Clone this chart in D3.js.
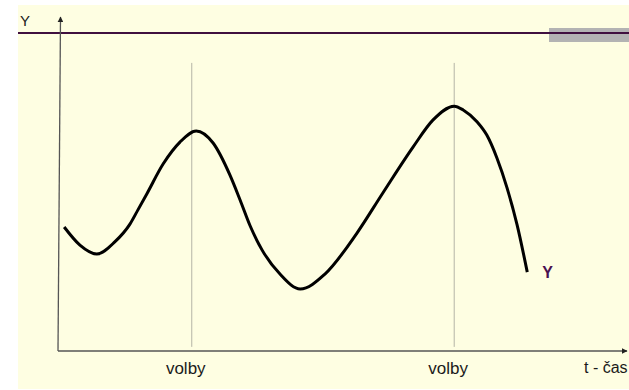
<!DOCTYPE html>
<html>
<head>
<meta charset="utf-8">
<script src="https://cdn.jsdelivr.net/npm/d3@7"></script>
<style>
  html, body { margin: 0; padding: 0; background: #fff; }
  svg { display: block; font-family: "Liberation Sans", Arial, sans-serif; }
</style>
</head>
<body>
<div id="chart"></div>
<script>
// curve of Y over time (t in % of the axis, value in % of the height up to the top line)
var times  = [1.1, 3.9, 6.9, 10.1, 12.8, 14.2, 15.8, 18.7, 21.7, 24.6, 27.6, 30.6, 32.4, 34.2,
              36.3, 39.5, 43.1, 47.5, 53.2, 57.8, 63.2, 66.7, 70.5, 72.1, 74.6, 76.3, 78.1,
              79.9, 81.7, 83.5];
var values = [39.0, 33.3, 30.5, 34.3, 39.9, 44.3, 49.4, 58.8, 65.7, 69.2, 65.4, 55.3, 47.5, 39.3,
              31.8, 24.2, 19.5, 24.2, 37.1, 49.7, 64.2, 72.6, 77.0, 75.8, 72.0, 67.9, 60.7,
              51.3, 39.6, 24.8];

// elections
var electionTimes = [23.8, 70.5];
var electionLabels = ["volby", "volby"];
var electionTop = 90.6;

var topLevel = 100; // horizontal purple line
var seriesLabel = "Y";
var yAxisLabel = "Y";
var xAxisLabel = "t - čas";

var width = 629, height = 390;

var svg = d3.select("#chart").append("svg")
    .attr("width", width).attr("height", height);

var defs = svg.append("defs");
defs.append("marker")
    .attr("id", "arrow")
    .attr("viewBox", "0 0 10 10")
    .attr("refX", 9).attr("refY", 5)
    .attr("markerWidth", 6).attr("markerHeight", 6)
    .attr("markerUnits", "userSpaceOnUse")
    .attr("orient", "auto")
    .append("path")
    .attr("d", "M0,0 L10,5 L0,10 z")
    .attr("fill", "#222");

// slide background
svg.append("rect")
    .attr("x", 18).attr("y", 5)
    .attr("width", width - 18).attr("height", 384)
    .attr("fill", "#fefee2");

var xScale = d3.scaleLinear().domain([0, 100]).range([58, 620]);
var yScale = d3.scaleLinear().domain([0, 100]).range([351, 33]);

// grey block at the right of the top line
svg.append("rect")
    .attr("x", 549).attr("y", 28)
    .attr("width", width - 549).attr("height", 14)
    .attr("fill", "#b3b3b3");

// top line
svg.append("line")
    .attr("x1", 18).attr("x2", width)
    .attr("y1", yScale(topLevel)).attr("y2", yScale(topLevel))
    .attr("stroke", "#40103f")
    .attr("stroke-width", 2);

// election lines
svg.selectAll(".election")
    .data(electionTimes)
    .enter().append("line")
    .attr("class", "election")
    .attr("x1", function(d){ return xScale(d); })
    .attr("x2", function(d){ return xScale(d); })
    .attr("y1", yScale(electionTop))
    .attr("y2", yScale(1.3))
    .attr("stroke", "#b4b4a6")
    .attr("stroke-width", 1);

svg.selectAll(".election-label")
    .data(electionTimes)
    .enter().append("text")
    .attr("class", "election-label")
    .attr("x", function(d){ return xScale(d) - 6; })
    .attr("y", 374)
    .attr("text-anchor", "middle")
    .attr("font-size", 17)
    .attr("fill", "#1a1a1a")
    .text(function(d, i){ return electionLabels[i]; });

// axes
svg.append("line")
    .attr("x1", 58).attr("y1", yScale(0))
    .attr("x2", 60.5).attr("y2", 17)
    .attr("stroke", "#555")
    .attr("stroke-width", 1.3)
    .attr("marker-end", "url(#arrow)");

svg.append("line")
    .attr("x1", 58).attr("y1", yScale(0))
    .attr("x2", 627).attr("y2", yScale(0))
    .attr("stroke", "#555")
    .attr("stroke-width", 1.3)
    .attr("marker-end", "url(#arrow)");

svg.append("text")
    .attr("x", 20).attr("y", 26)
    .attr("font-size", 15)
    .attr("fill", "#1a1a1a")
    .text(yAxisLabel);

svg.append("text")
    .attr("x", 584).attr("y", 373)
    .attr("font-size", 16)
    .attr("fill", "#1a1a1a")
    .text(xAxisLabel);

// the curve
var data = times.map(function(t, i){ return {"time": t, "value": values[i]}; });

var line = d3.line()
    .x(function(d){ return xScale(d.time); })
    .y(function(d){ return yScale(d.value); })
    .curve(d3.curveMonotoneX);

svg.append("path")
    .datum(data)
    .attr("d", line)
    .attr("fill", "none")
    .attr("stroke", "#000")
    .attr("stroke-width", 3);

var last = data[data.length - 1];
svg.append("text")
    .attr("x", xScale(last.time) + 15)
    .attr("y", yScale(last.value) + 6)
    .attr("font-size", 16)
    .attr("font-weight", "bold")
    .attr("fill", "#4a1050")
    .text(seriesLabel);
</script>
</body>
</html>
